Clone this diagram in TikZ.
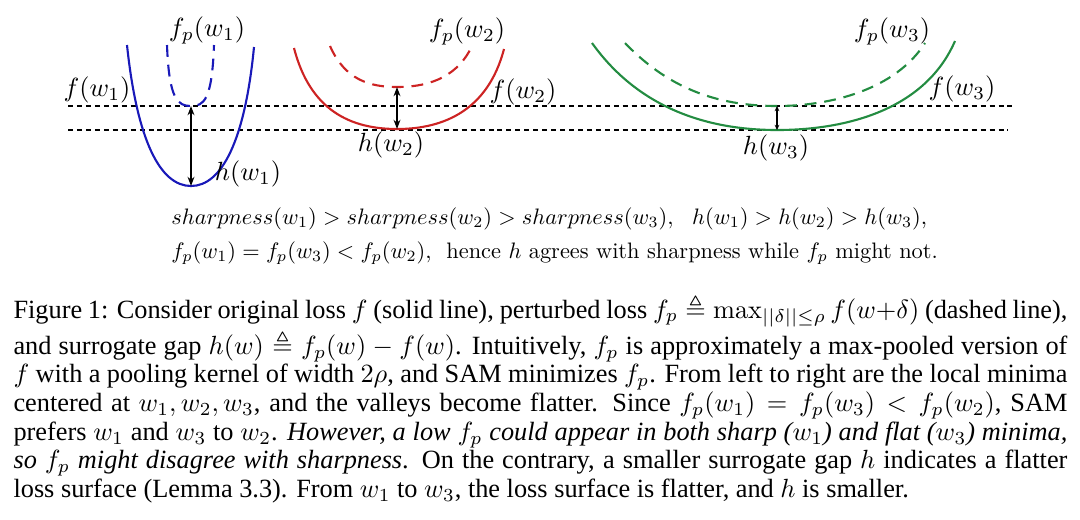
\documentclass[tikz,border=0pt]{standalone}
\usepackage{amsmath,amssymb}
\usepackage{fontspec}
\newfontfamily\capfont{Liberation Serif}
\usepackage{tikz}
\usetikzlibrary{arrows.meta}
\definecolor{lossblue}{RGB}{25,25,185}
\definecolor{lossred}{RGB}{205,35,35}
\definecolor{lossgreen}{RGB}{35,140,65}

\begin{document}
\begin{tikzpicture}[x=0.38pt, y=-0.38pt,
    loss/.style={line width=0.8pt},
    pert/.style={line width=0.8pt, dash pattern=on 4.5pt off 3pt},
    level/.style={line width=0.4pt, dash pattern=on 1.9pt off 1.5pt},
    gap/.style={{Stealth[length=3.5pt,width=2.6pt]}-{Stealth[length=3.5pt,width=2.6pt]}, line width=0.8pt},
    label/.style={inner sep=0pt}
]
\useasboundingbox[fill=white] (0,0) rectangle (1080,519);

% Level lines
\draw[level] (68,106) -- (1012,106);
\draw[level] (68,130) -- (1008,130);

% Sharp minimum w1
\coordinate (pmin1) at (191,106);
\coordinate (fmin1) at (191,186);
\draw[loss, lossblue] (127,45) .. controls (137,140) and (160,186) .. (fmin1)
    .. controls (222,186) and (245,140) .. (254,47);
\draw[pert, lossblue] (167,45) .. controls (169,100) and (178,106) .. (pmin1)
    .. controls (204,106) and (212,100) .. (214,45);
\draw[gap] (pmin1) -- (fmin1);
\node[label] (fp1) at (207,30) {$f_p(w_1)$};
\node[label] (f1) at (97,90) {$f(w_1)$};
\node[label] (h1) at (248,174) {$h(w_1)$};

% Medium minimum w2
\coordinate (pmin2) at (397,87);
\coordinate (fmin2) at (397,129);
\draw[loss, lossred] (294,48) .. controls (310,110) and (350,129) .. (fmin2)
    .. controls (444,129) and (488,110) .. (504,49);
\draw[pert, lossred] (330,46) .. controls (345,80) and (370,87) .. (pmin2)
    .. controls (424,87) and (455,80) .. (471,48);
\draw[gap] (pmin2) -- (fmin2);
\node[label] (fp2) at (467,31) {$f_p(w_2)$};
\node[label] (f2) at (523,92) {$f(w_2)$};
\node[label] (h2) at (391,145) {$h(w_2)$};

% Flat minimum w3
\coordinate (pmin3) at (777,106);
\coordinate (fmin3) at (777,130);
\draw[loss, lossgreen] (592,43) .. controls (640,110) and (710,130) .. (fmin3)
    .. controls (846,130) and (925,110) .. (955,41);
\draw[pert, lossgreen] (625,43) .. controls (670,90) and (720,106) .. (pmin3)
    .. controls (830,106) and (895,90) .. (925,43);
\draw[{Stealth[length=2pt,width=1.8pt]}-{Stealth[length=2pt,width=1.8pt]}, line width=0.5pt] (pmin3) -- (fmin3);
\node[label] (fp3) at (892,31) {$f_p(w_3)$};
\node[label] (f3) at (962,89) {$f(w_3)$};
\node[label] (h3) at (776,148) {$h(w_3)$};

% Summary
\node[label, anchor=base west, align=left, scale=0.85, transform shape, font=\fontsize{10}{15.2}\selectfont] (summary) at (171,258)
    {$sharpness(w_1) > sharpness(w_2) > sharpness(w_3),\ \ h(w_1) > h(w_2) > h(w_3),$\\
     $f_p(w_1) = f_p(w_3) < f_p(w_2),$\ \ hence $h$ agrees with sharpness while $f_p$ might not.};

% Caption
\node[label, anchor=base west, text width=400.5pt, align=justify, font=\capfont\fontsize{10}{10.9}\selectfont] (caption) at (13,318)
    {Figure 1: Consider original loss $f$ (solid line), perturbed loss $f_p \triangleq \max_{||\delta||\leq\rho} f(w{+}\delta)$ (dashed line),\linebreak
     and surrogate gap $h(w) \triangleq f_p(w) - f(w)$. Intuitively, $f_p$ is approximately a max-pooled version of\linebreak
     $f$ with a pooling kernel of width $2\rho$, and SAM minimizes $f_p$. From left to right are the local minima\linebreak
     centered at $w_1, w_2, w_3$, and the valleys become flatter. Since $f_p(w_1) = f_p(w_3) < f_p(w_2)$, SAM\linebreak
     prefers $w_1$ and $w_3$ to $w_2$. \textit{However, a low $f_p$ could appear in both sharp ($w_1$) and flat ($w_3$) minima,}\linebreak
     \textit{so $f_p$ might disagree with sharpness}. On the contrary, a smaller surrogate gap $h$ indicates a flatter\linebreak
     loss surface (Lemma 3.3). From $w_1$ to $w_3$, the loss surface is flatter, and $h$ is smaller.};

\end{tikzpicture}
\end{document}
